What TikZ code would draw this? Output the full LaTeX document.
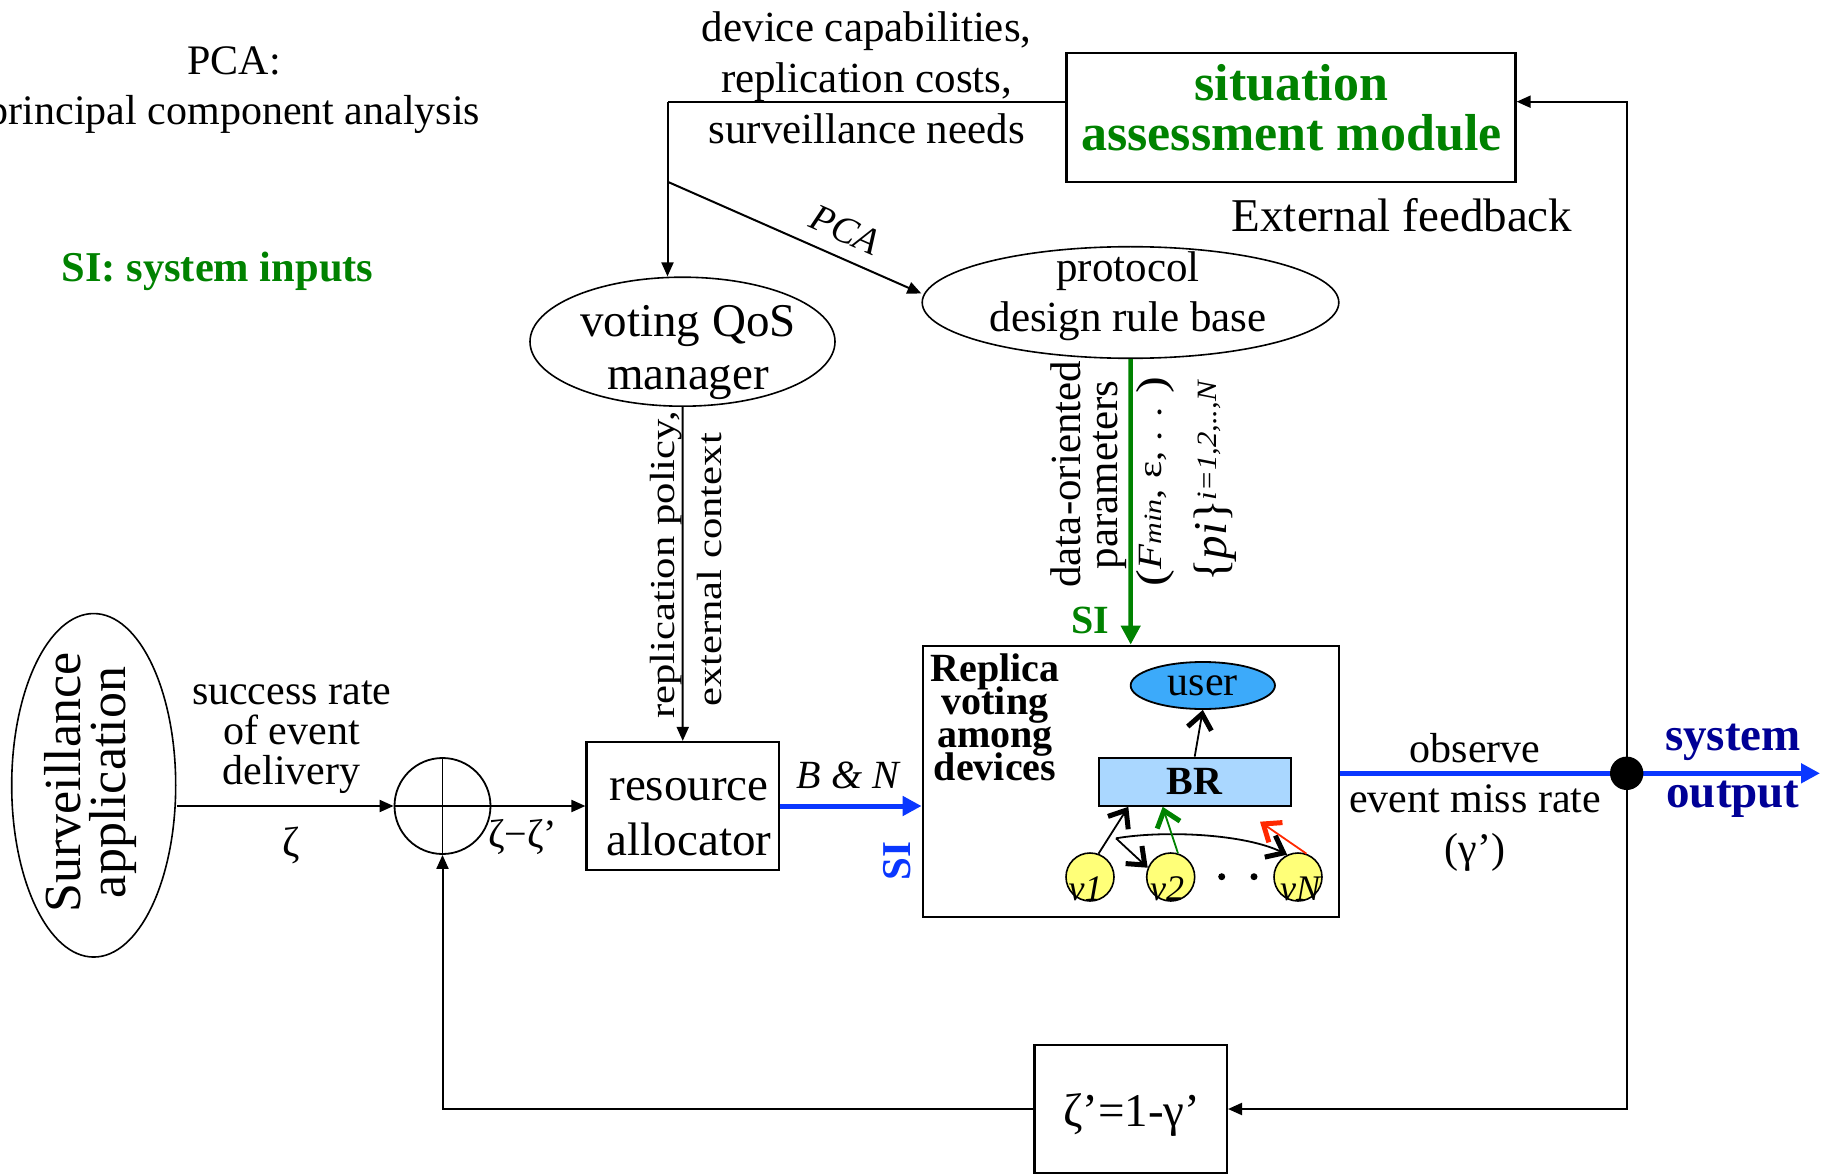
\documentclass[tikz,border=0pt]{standalone}
\usepackage{fontspec}
\usepackage{graphicx}
\setmainfont{Liberation Serif}
\usetikzlibrary{arrows.meta,shapes.geometric,calc}
\definecolor{sigreen}{RGB}{0,130,0}
\definecolor{sigblue}{RGB}{10,55,255}
\definecolor{outnavy}{RGB}{0,0,150}
\definecolor{userfill}{RGB}{60,170,250}
\definecolor{brfill}{RGB}{170,215,255}
\definecolor{voteryellow}{RGB}{255,255,120}
\definecolor{votered}{RGB}{255,40,0}
\newcommand{\fsz}[2]{\fontsize{#1}{#2}\selectfont\lineskiplimit=-1000pt\relax}
\begin{document}
\begin{tikzpicture}[x=1pt,y=-1pt,
  lbl/.style={inner sep=0pt,align=center},
  frame/.style={draw,line width=2.2pt,inner sep=0pt},
  oval/.style={draw,ellipse,line width=1.6pt,inner sep=0pt},
  flow/.style={line width=2pt,-{Triangle[length=14pt,width=12pt]}},
  sig/.style={line width=5pt,-{Triangle[length=19pt,width=19pt]}},
  barb/.style={line width=1.8pt,-{Straight Barb[length=15pt,width=24pt,line width=5pt]}},
  voter/.style={circle,draw,line width=1.6pt,fill=voteryellow,minimum size=48pt,inner sep=0pt},
  vlab/.style={inner sep=0pt,font=\fsz{36}{36}\itshape},
  dotmark/.style={circle,fill,inner sep=0pt,minimum size=7pt},
]
\useasboundingbox (0,0) rectangle (1826,1174);

% notes in the upper left
\node[lbl,font=\fsz{42}{50}] (pcanote) at (234,90.4) {PCA:\\principal component analysis};
\node[lbl,anchor=base,font=\fsz{42.5}{50}\bfseries,text=sigreen] (sinote) at (217.5,281.7) {SI: system inputs};

% situation assessment and its outputs
\node[lbl,font=\fsz{43}{50.8}] (needs) at (866.7,77.8) {device capabilities,\\replication costs,\\surveillance needs};
\node[frame,minimum width=449pt,minimum height=128.4pt] (sitbox) at (1291,117.5) {};
\node[lbl,font=\fsz{52}{50}\bfseries,text=sigreen] (sittext) at (1291.5,107.3) {situation\\assessment module};
\node[lbl,anchor=base,font=\fsz{47}{50}] (extfb) at (1402,231.7) {External feedback};

% protocol rule base and QoS manager
\node[oval,minimum width=416.6pt,minimum height=111.6pt] (proto) at (1130.5,302.5) {};
\node[lbl,font=\fsz{43}{50}] (prototext) at (1128,296.7) {protocol\\design rule base};
\node[oval,minimum width=305pt,minimum height=129pt] (qos) at (682.5,341.7) {};
\node[lbl,font=\fsz{47}{53.3}] (qostext) at (688,352.5) {voting QoS\\manager};

% application and control loop
\node[oval,minimum width=164pt,minimum height=343.5pt] (surv) at (93.7,785.3) {};
\node[lbl,rotate=90,font=\fsz{52}{45.5}] (survtext) at (90.6,782.5) {Surveillance\\application};
\node[circle,draw,line width=1.8pt,minimum size=96pt,inner sep=0pt] (sum) at (442.5,806) {};
\draw[line width=1.8pt] (sum.north) -- (sum.south) (sum.west) -- (sum.east);
\node[frame,minimum width=192.5pt,minimum height=128pt] (alloc) at (682.75,806) {};
\node[lbl,font=\fsz{47}{55}] (alloctext) at (689,817) {resource\\allocator};

% replica voting block
\node[frame,minimum width=416pt,minimum height=271.6pt] (replica) at (1130.7,781.5) {};
\node[lbl,font=\fsz{40}{32.7}\bfseries] (replicatext) at (995,717.3) {Replica\\voting\\among\\devices};
\node[ellipse,draw,line width=1.8pt,fill=userfill,minimum width=144.3pt,minimum height=47pt,inner sep=0pt,font=\fsz{42}{42}] (user) at (1202.8,685.5) {user};
\node[draw,line width=2.2pt,fill=brfill,minimum width=192pt,minimum height=48pt,inner sep=0pt,font=\fsz{40}{40}\bfseries] (br) at (1194.7,781.7) {BR};
\node[voter] (v1) at (1090,877) {};
\node[voter] (v2) at (1170.7,877) {};
\node[voter] (vN) at (1298,877) {};
\node[vlab] (v1lab) at (1085.7,889) {v1};
\node[vlab] (v2lab) at (1167,889) {v2};
\node[vlab] (vNlab) at (1300,889) {vN};
\node[dotmark] (dotA) at (1221.7,876.7) {};
\node[dotmark] (dotB) at (1254,876.7) {};

% feedback block
\node[frame,minimum width=192.4pt,minimum height=128.3pt] (fb) at (1130.7,1109) {};
\node[inner sep=0pt,anchor=base,font=\fsz{47}{47}] (fbtext) at (1131.8,1126.7) {ζ’=1-γ’};

% connectors
\coordinate (sitout) at ([yshift=15.8pt]sitbox.west);
\coordinate (sitin) at ([yshift=15.8pt]sitbox.east);
\coordinate (corner) at (667.5,101.7);
\coordinate (split) at (667.5,181.7);
\coordinate (protoin) at ([yshift=9pt]proto.west);
\coordinate (jpt) at (1626.7,773.3);
\coordinate (outend) at (1820,773.3);
\draw[line width=2pt] (sitout) -- (corner);
\draw[flow] (corner) -- (corner |- qos.north);
\draw[flow] (split) -- (protoin);
\draw[flow] (qos.south) -- (alloc.north);
\draw[flow] (surv.east |- sum.west) -- (sum.west);
\draw[flow] (sum.east) -- (alloc.west);
\draw[sig,sigblue] (alloc.east) -- (alloc.east -| replica.west);
\draw[line width=4.5pt,sigreen,-{Triangle[length=19pt,width=19pt]}] (proto.south) -- (replica.north);
\draw[sig,sigblue] (jpt -| replica.east) -- (outend);
\draw[flow] (jpt) |- (sitin);
\draw[flow] (jpt) |- (fb.east);
\draw[flow] (fb.west) -| (sum.south);
\node[circle,fill,minimum size=33.4pt,inner sep=0pt] (junc) at (jpt) {};

% votes inside the replica block
\coordinate (fork) at (1116,838.3);
\coordinate (redtip) at (1260,821.7);
\draw[barb] (v1.70) -- ($(br.south west)!0.158!(br.south east)$);
\draw[barb] (fork) -- (v2.158);
\draw[barb] (fork) .. controls (1165,830) and (1245,834) .. (vN.116);
\draw[barb,sigreen] (v2.73) -- ($(br.south west)!0.335!(br.south east)$);
\draw[barb,votered] (vN.70) -- (redtip);
\draw[barb] (br.north) -- (user.south);

% connector labels
\node[lbl,rotate=-23.7,font=\fsz{38}{38}\itshape] (pcalab) at (845,230) {PCA};
\node[inner sep=0pt,anchor=base,rotate=90,font=\fsz{35}{35}] (pol1) at (674.3,565) {\scalebox{1.22}[1]{replication policy,}};
\node[inner sep=0pt,anchor=base,rotate=90,font=\fsz{35}{35}] (pol2) at (721.7,570) {\scalebox{1.22}[1]{external context}};
\node[inner sep=0pt,anchor=base,rotate=90,font=\fsz{43}{43}] (par1) at (1080,474.2) {data-oriented};
\node[inner sep=0pt,anchor=base,rotate=90,font=\fsz{43}{43}] (par2) at (1117.4,475) {parameters};
\node[inner sep=0pt,anchor=base,rotate=90,font=\fsz{34}{34}] (par3) at (1161,481.5)
  {\scalebox{1.2}[1]{\raisebox{-4pt}{\fsz{42}{42}(}\textit{F}{\fsz{25}{25}\itshape min}, ε, . . \raisebox{-4pt}{\fsz{42}{42})}}};
\node[inner sep=0pt,anchor=base,rotate=90,font=\fsz{47}{47}] (par4) at (1226.7,481.5)
  {\{\textit{pi}\}\raisebox{10pt}{\fsz{28}{28}\itshape\scalebox{1.1}[1]{i=1,2,..,N}}};
\node[lbl,font=\fsz{40}{40}\bfseries,text=sigreen] (sigreenlab) at (1090,620) {SI};
\node[lbl,rotate=90,font=\fsz{41}{41}\bfseries,text=sigblue] (sibluelab) at (896.7,861) {SI};
\node[lbl,anchor=base,font=\fsz{40}{40}\itshape] (bnlab) at (848,788.3) {B \& N};
\node[lbl,font=\fsz{42}{40}] (ratelab) at (291.7,737) {success rate\\of event\\delivery};
\node[lbl,font=\fsz{42}{42}] (zetalab) at (291,845) {ζ};
\node[lbl,font=\fsz{40}{40}] (difflab) at (522.7,836.7) {ζ−ζ’};
\node[lbl,font=\fsz{42}{50}] (misslab) at (1475,801.9) {observe\\event miss rate\\(γ’)};
\node[lbl,font=\fsz{47}{56.6}\bfseries,text=outnavy] (outlab) at (1733,770.6) {system\\output};
\end{tikzpicture}
\end{document}
